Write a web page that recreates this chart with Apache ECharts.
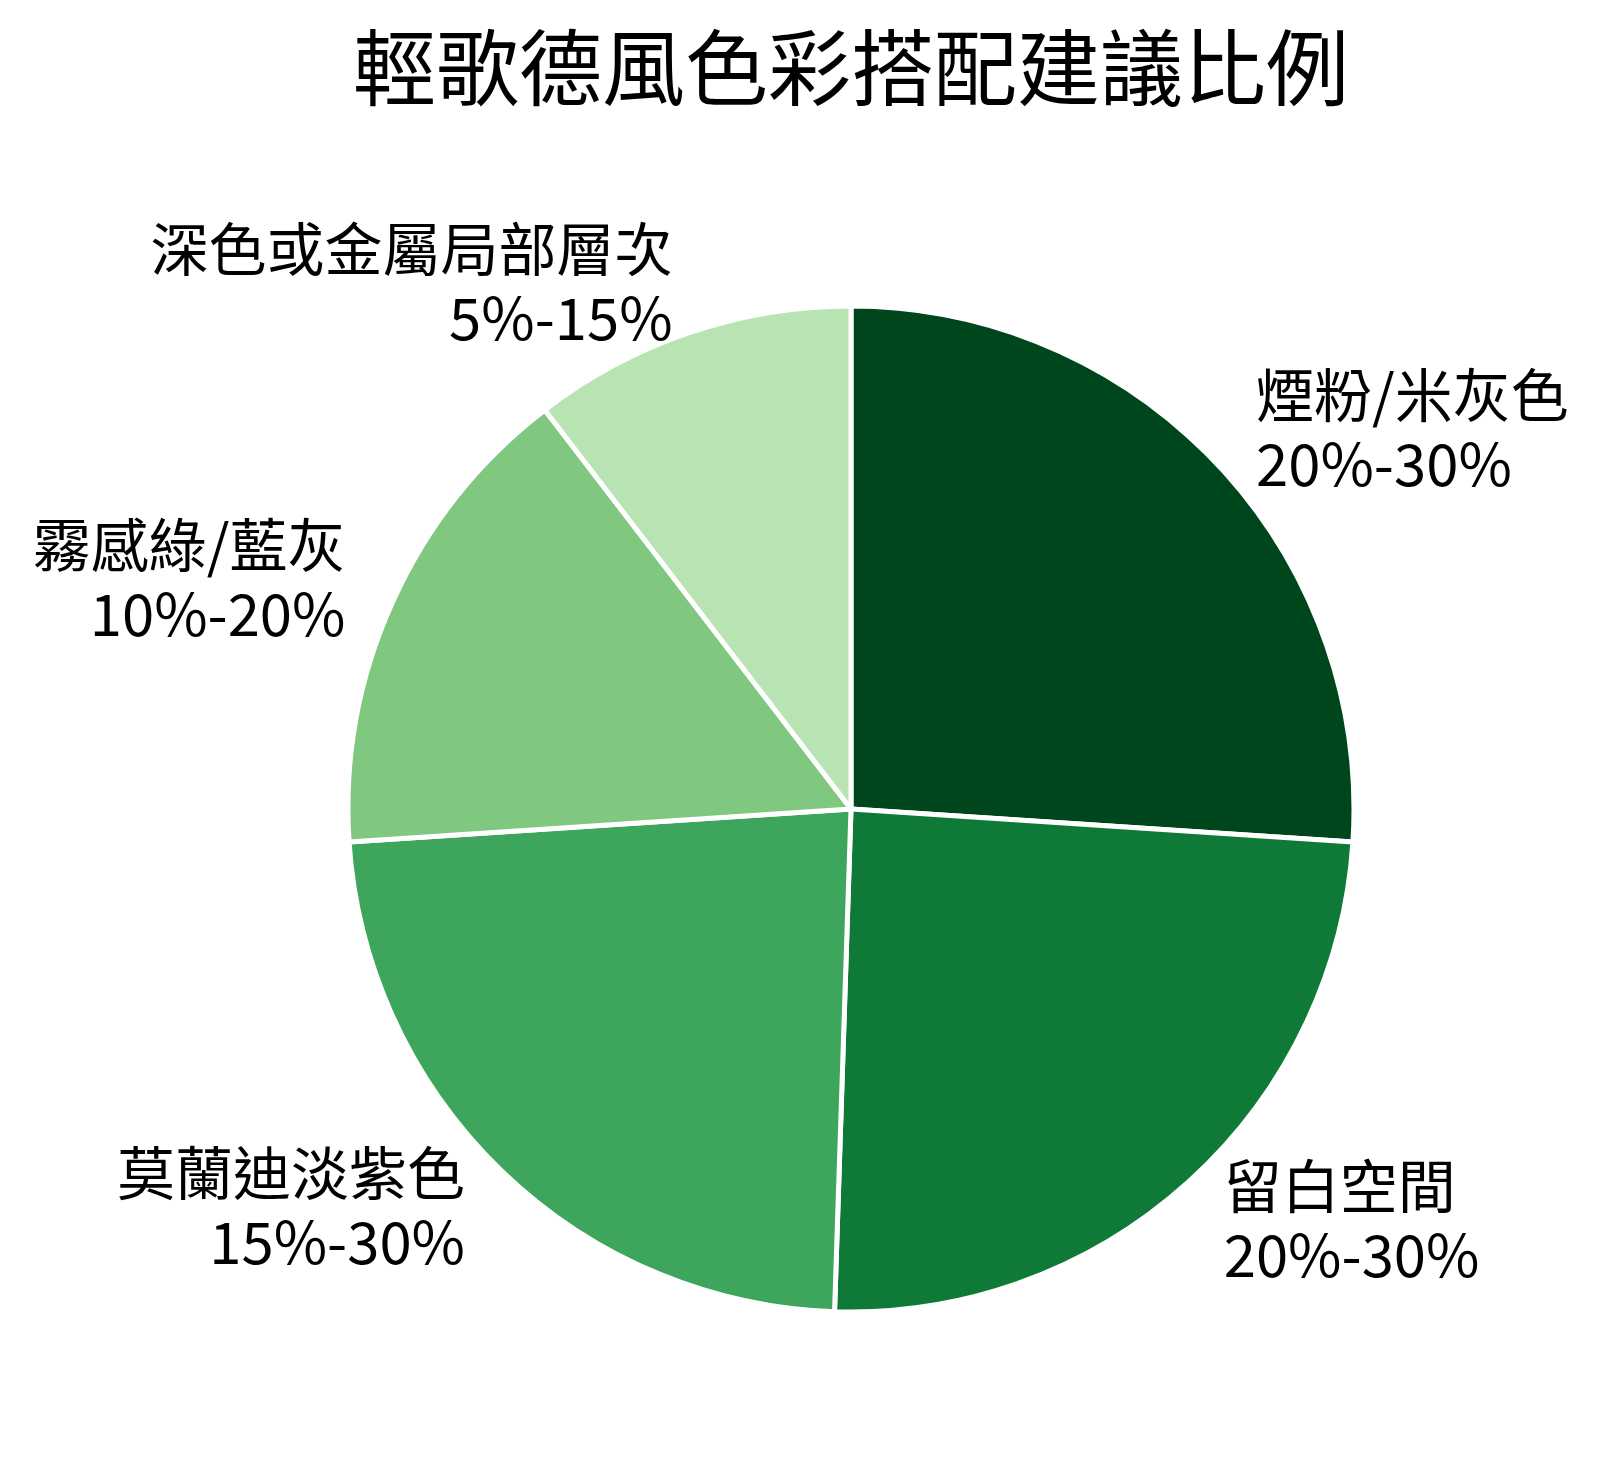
<!DOCTYPE html>
<html>
<head>
<meta charset="utf-8">
<script src="https://cdn.jsdelivr.net/npm/echarts@6/dist/echarts.min.js"></script>
<style>
html, body { margin: 0; padding: 0; background: #fff; }
#chart { width: 1603px; height: 1468px; }
</style>
</head>
<body>
<div id="chart"></div>
<script type="text/javascript">
var names = ['煙粉/米灰色', '留白空間', '莫蘭迪淡紫色', '霧感綠/藍灰', '深色或金屬局部層次'];
var values = [25, 23.5, 22.5, 15, 10];
var ranges = ['20%-30%', '20%-30%', '15%-30%', '10%-20%', '5%-15%'];
var colors = ['#00461d', '#0f7937', '#3ea55c', '#80c77f', '#b8e3b3'];

var pieData = names.map(function (n, i) {
    return { name: n, value: values[i], itemStyle: { color: colors[i] } };
});

var myChart = echarts.init(document.getElementById('chart'));
var option = {
    backgroundColor: '#ffffff',
    animation: false,
    title: {
        text: '輕歌德風色彩搭配建議比例',
        left: 348,
        top: 21,
        textStyle: {
            fontFamily: 'Noto Sans CJK TC',
            fontSize: 83,
            fontWeight: 'normal',
            color: '#000'
        }
    },
    series: [
        {
            type: 'pie',
            center: [851, 809],
            radius: 503,
            startAngle: 90,
            clockwise: true,
            data: pieData,
            itemStyle: {
                borderColor: '#ffffff',
                borderWidth: 5
            },
            label: {
                show: true,
                position: 'outside',
                distanceToLabelLine: 0,
                fontFamily: 'Noto Sans CJK TC',
                fontSize: 58,
                lineHeight: 69,
                color: '#000',
                formatter: function (p) {
                    return p.name + '\n' + ranges[p.dataIndex];
                }
            },
            labelLine: {
                show: false,
                length: 52,
                length2: 0
            },
            emphasis: { disabled: true }
        }
    ]
};
myChart.setOption(option);
</script>
</body>
</html>
